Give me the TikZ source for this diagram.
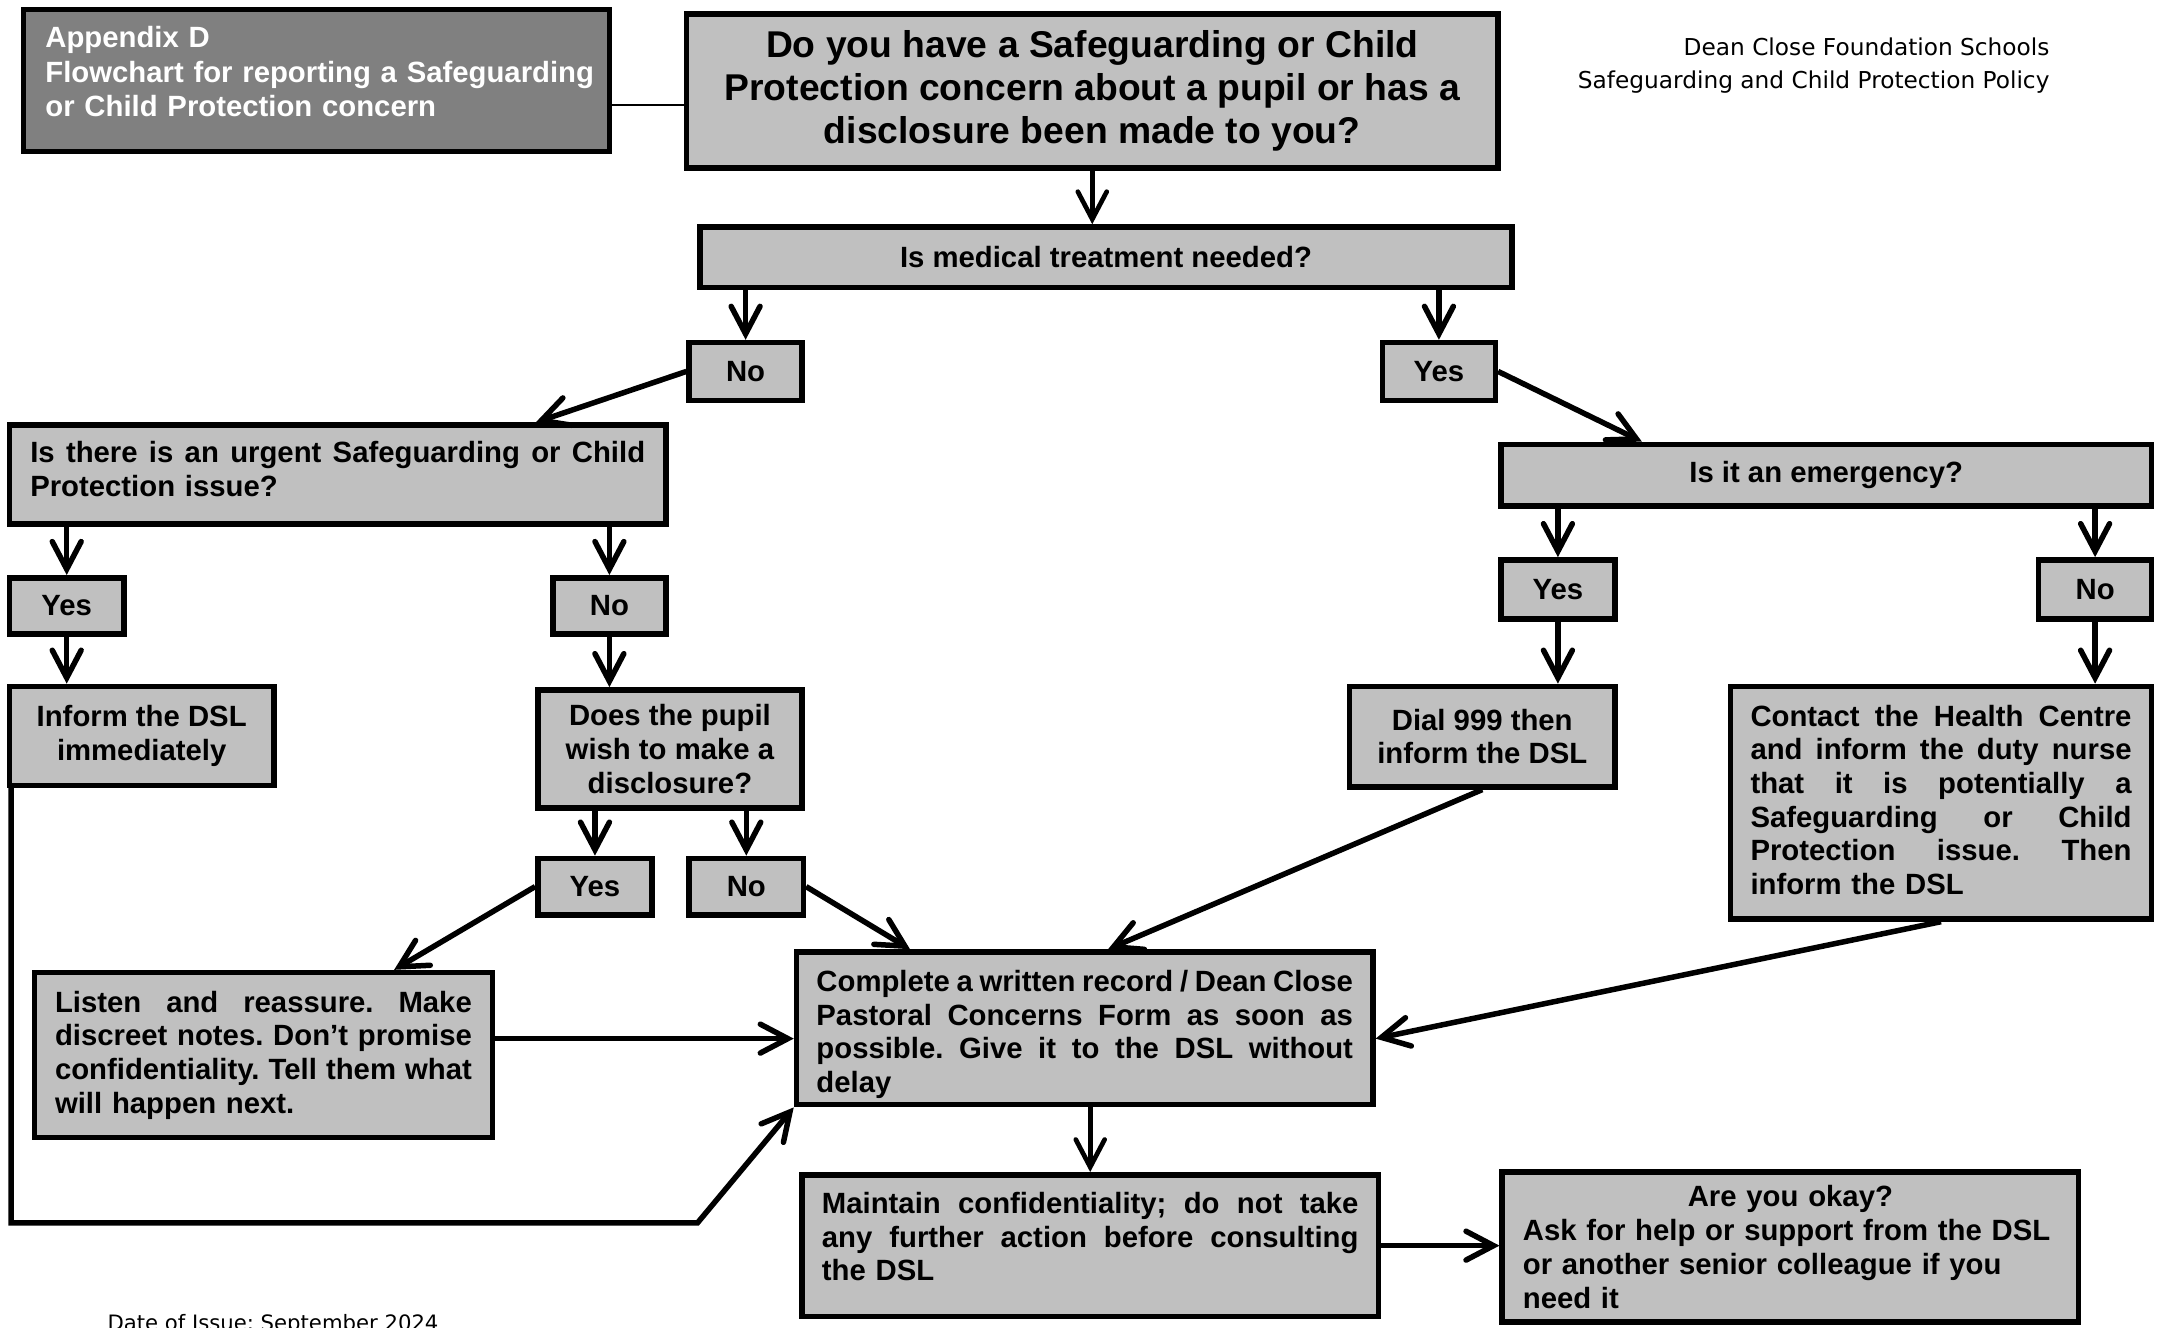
\documentclass[tikz,border=0pt]{standalone}
\usepackage{fontspec}
\setmainfont{Liberation Sans}
\newfontfamily\hdrfont{DejaVu Sans}
\usetikzlibrary{arrows.meta}
\definecolor{boxgray}{HTML}{C0C0C0}
\definecolor{darkbox}{HTML}{808080}
% justified line of given width: every interword space stretches equally
\newcommand{\jl}[2]{\leavevmode\hbox to #1{\spaceskip=0.278em plus 1fil minus 0.16em\relax #2}}
\newcommand{\padbottom}[1]{\par\nointerlineskip\vbox to #1{}}
\frenchspacing
\begin{document}
\begin{tikzpicture}[x=1pt,y=-1pt,
  box/.style={draw, line width=4pt, fill=boxgray, inner sep=0pt, font={\fontsize{21.3}{24.5}\selectfont\bfseries\frenchspacing}},
  arr/.style={line width=4pt, -{Straight Barb[length=20pt,width=21pt,line cap=round,line join=miter]}},
  arrthin/.style={line width=3.4pt, -{Straight Barb[length=20pt,width=21pt,line cap=round,line join=miter]}},
  hdr/.style={inner sep=0pt, font={\hdrfont\fontsize{16.9}{24}\selectfont}}]
\fill[white] (0,0) rectangle (1568,965);
\useasboundingbox (0,0) rectangle (1568,965);

% boxes
\node[box, fill=darkbox, text=white, minimum width=426, minimum height=103, text width=394, align=left, font={\fontsize{21.3}{25}\selectfont\bfseries}] (app) at (230,58.5)
  {Appendix D\\\mbox{Flowchart for reporting a Safeguarding}\\or Child Protection concern\padbottom{13pt}};
\node[box, minimum width=590, minimum height=112, align=center, font={\fontsize{27.1}{31}\selectfont\bfseries}] (title) at (794,66)
  {Do you have a Safeguarding or Child\\Protection concern about a pupil or has a\\disclosure been made to you?};
\node[hdr, align=right, anchor=east] (hdrtext) at (1490,48)
  {Dean Close Foundation Schools\\Safeguarding and Child Protection Policy};
\node[box, minimum width=590, minimum height=44] (medical) at (804,187) {Is medical treatment needed?};
\node[box, minimum width=82, minimum height=42] (no1) at (542,270) {No};
\node[box, minimum width=82, minimum height=42] (yes1) at (1046,270) {Yes};
\node[box, minimum width=477, minimum height=72, text width=447, align=left] (urgent) at (245.5,345)
  {\jl{447pt}{Is there is an urgent Safeguarding or Child}\\Protection issue?\padbottom{8pt}};
\node[box, minimum width=83, minimum height=41] (yes2) at (48.5,440.5) {Yes};
\node[box, minimum width=82, minimum height=41] (no2) at (443,440.5) {No};
\node[box, minimum width=192, minimum height=72, align=center] (inform) at (103,535) {Inform the DSL\\immediately};
\node[box, minimum width=192, minimum height=86, align=center] (does) at (487,544.5) {Does the pupil\\wish to make a\\disclosure?};
\node[box, minimum width=83, minimum height=41] (yes3) at (432.5,644.5) {Yes};
\node[box, minimum width=83, minimum height=41] (no3) at (542.5,644.5) {No};
\node[box, minimum width=333, minimum height=120, text width=303, align=left] (listen) at (191.5,767)
  {\jl{303pt}{Listen and reassure. Make}\\\jl{303pt}{discreet notes. Don’t promise}\\\jl{303pt}{confidentiality. Tell them what}\\will happen next.};
\node[box, minimum width=419, minimum height=111, text width=390, align=left] (complete) at (788.5,747.5)
  {\jl{390pt}{Complete a written record / Dean Close}\\\jl{390pt}{Pastoral Concerns Form as soon as}\\\jl{390pt}{possible. Give it to the DSL without}\\delay\padbottom{-9pt}};
\node[box, minimum width=419, minimum height=103, text width=390, align=left] (maintain) at (792.5,905.5)
  {\jl{390pt}{Maintain confidentiality; do not take}\\\jl{390pt}{any further action before consulting}\\the DSL\padbottom{13pt}};
\node[box, minimum width=419, minimum height=109, text width=389, align=left] (okay) at (1301.5,906.5)
  {\leavevmode\hbox to 389pt{\hfil Are you okay?\hfil}\\Ask for help or support from the DSL\\or another senior colleague if you\\need it};
\node[box, minimum width=473, minimum height=45] (emergency) at (1327.5,345.5) {Is it an emergency?};
\node[box, minimum width=83, minimum height=43] (yes4) at (1132.5,428.5) {Yes};
\node[box, minimum width=82, minimum height=43] (no4) at (1523,428.5) {No};
\node[box, minimum width=193, minimum height=73, align=center] (dial) at (1077.5,535.5) {Dial 999 then\\inform the DSL};
\node[box, minimum width=306, minimum height=169, text width=277, align=left] (contact) at (1411,583.5)
  {\jl{277pt}{Contact the Health Centre}\\\jl{277pt}{and inform the duty nurse}\\\jl{277pt}{that it is potentially a}\\\jl{277pt}{Safeguarding or Child}\\\jl{277pt}{Protection issue. Then}\\inform the DSL\padbottom{4pt}};
\node[inner sep=0pt, anchor=base west, font={\hdrfont\fontsize{15.4}{18}\selectfont}] (date) at (78,967) {Date of Issue: September 2024};

% helper coordinates
\coordinate (ly) at (0,76);
\coordinate (ly2) at (0,755);
\coordinate (bend) at (507,889);

% connectors
\draw[line width=1.5pt] (app.east |- ly) -- (title.west |- ly);
\draw[arrthin] (title.south) -- (title.south |- medical.north);
\draw[arr] (no1 |- medical.south) -- (no1.north);
\draw[arr] (yes1 |- medical.south) -- (yes1.north);
\draw[arr] (no1.west) -- ([xshift=144pt]urgent.north);
\draw[arr] (yes1.east) -- ([xshift=-134pt]emergency.north);
\draw[arr] (yes2 |- urgent.south) -- (yes2.north);
\draw[arr] (no2 |- urgent.south) -- (no2.north);
\draw[arr] (yes2.south) -- (yes2 |- inform.north);
\draw[arr] (no2.south) -- (no2 |- does.north);
\draw[arr] (yes3 |- does.south) -- (yes3.north);
\draw[arr] (no3 |- does.south) -- (no3.north);
\draw[arr] (yes3.west) -- ([xshift=95pt]listen.north);
\draw[arr] (no3.east) -- ([xshift=-127pt]complete.north);
\draw[arr] (listen.east |- ly2) -- (complete.west |- ly2);
\draw[arr] ([xshift=3pt]inform.south west) |- (bend) -- (complete.south west);
\draw[arr] (yes4 |- emergency.south) -- (yes4.north);
\draw[arr] (no4 |- emergency.south) -- (no4.north);
\draw[arr] (yes4.south) -- (yes4 |- dial.north);
\draw[arr] (no4.south) -- (no4 |- contact.north);
\draw[arr] (dial.south) -- ([xshift=17pt]complete.north);
\draw[arr] (contact.south) -- (complete.east |- ly2);
\draw[arrthin] (maintain |- complete.south) -- (maintain.north);
\draw[arr] (maintain.east) -- (okay.west |- maintain.east);
\end{tikzpicture}
\end{document}
